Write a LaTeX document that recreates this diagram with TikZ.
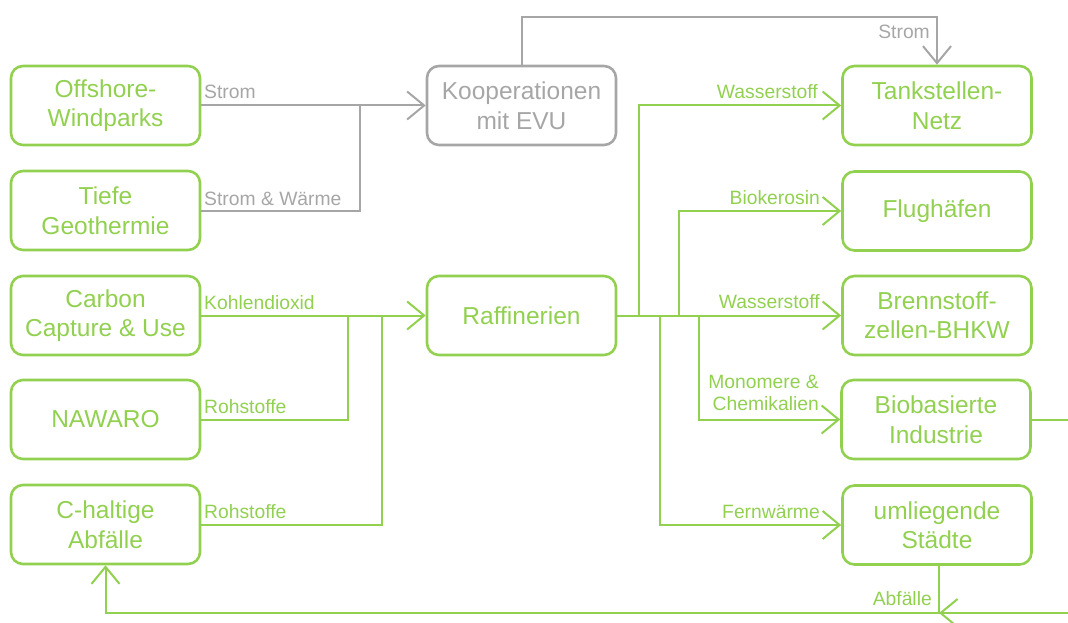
\documentclass[tikz,border=0pt]{standalone}
\usepackage{fontspec}
\setmainfont{Liberation Sans}
\usetikzlibrary{arrows.meta}
\definecolor{grn}{RGB}{146,208,80}
\definecolor{gry}{RGB}{166,166,166}
\begin{document}
\begin{tikzpicture}[x=1pt,y=-1pt,
  box/.style={draw=grn, text=grn, line width=2.6pt, rounded corners=12pt,
    minimum width=189pt, minimum height=79pt, align=center, inner sep=0pt,
    font=\fontsize{24.5}{29.5}\selectfont},
  gbox/.style={box, draw=gry, text=gry},
  flow/.style={draw=grn, line width=2pt},
  gflow/.style={draw=gry, line width=2pt},
  arr/.style={-{Straight Barb[length=17pt,width=28pt]}},
  lbl/.style={font=\fontsize{19.3}{22}\selectfont, text=grn, inner sep=0pt},
  glbl/.style={lbl, text=gry}]
\useasboundingbox (0,0) rectangle (1068,623);

% left column
\node[box] (off) at (105.5,105.5) {Offshore-\\Windparks};
\node[box] (geo) at (105.5,210.5) {Tiefe\\Geothermie};
\node[box] (ccu) at (105.5,315.5) {Carbon\\Capture \& Use};
\node[box] (naw) at (105.5,419.5) {NAWARO};
\node[box] (chalt) at (105.5,524.5) {C-haltige\\Abfälle};
% middle
\node[gbox] (evu) at (521.5,105.5) {Kooperationen\\mit EVU};
\node[box] (raff) at (521.5,315.5) {Raffinerien};
% right column
\node[box] (tank) at (937,105.5) {Tankstellen-\\Netz};
\node[box] (flug) at (937,211) {Flughäfen};
\node[box] (bhkw) at (937,315.5) {Brennstoff-\\zellen-BHKW};
\node[box] (bio) at (936,419.5) {Biobasierte\\Industrie};
\node[box] (stadt) at (937,525) {umliegende\\Städte};

% gray connectors
\coordinate (g1) at (360,105.5);
\coordinate (t1) at (521.5,17);
\draw[gflow,arr] (off.east) -- (evu.west);
\draw[gflow] (geo.east) -| (g1);
\draw[gflow,arr] (evu.north) -- (t1) -| (tank.north);

% green inputs
\coordinate (j1) at (348,315.5);
\coordinate (j2) at (382,315.5);
\draw[flow,arr] (ccu.east) -- (raff.west);
\draw[flow] (naw.east) -| (j1);
\draw[flow] (chalt.east) -| (j2);

% outputs
\coordinate (r1) at (639,315.5);
\coordinate (r2) at (660,315.5);
\coordinate (r3) at (679,315.5);
\coordinate (r4) at (699,315.5);
\draw[flow,arr] (raff.east) -- (bhkw.west);
\draw[flow,arr] (r1) |- (tank.west);
\draw[flow,arr] (r3) |- (flug.west);
\draw[flow,arr] (r4) |- (bio.west);
\draw[flow,arr] (r2) |- (stadt.west);

% return loop
\coordinate (re) at (1068,419.5);
\coordinate (rb) at (1068,613);
\coordinate (jb) at (939,613);
\coordinate (lb) at (105.5,613);
\draw[flow] (bio.east) -- (re);
\draw[flow,arr] (rb) -- (jb);
\draw[flow,arr] (stadt.south -| jb) -- (jb) -- (lb) -- (chalt.south);

% labels
\node[glbl, anchor=base west] (l1) at (204,99) {Strom};
\node[glbl, anchor=base west] (l2) at (204,205) {Strom \& Wärme};
\node[glbl, anchor=base east] (l3) at (930,39) {Strom};
\node[lbl, anchor=base west] (l4) at (204,309) {Kohlendioxid};
\node[lbl, anchor=base west] (l5) at (204,413) {Rohstoffe};
\node[lbl, anchor=base west] (l6) at (204,518) {Rohstoffe};
\node[lbl, anchor=base east] (l7) at (818,99) {Wasserstoff};
\node[lbl, anchor=base east] (l8) at (820,204) {Biokerosin};
\node[lbl, anchor=base east] (l9) at (820,308) {Wasserstoff};
\node[lbl, anchor=base east] (l10) at (819,388) {Monomere \&};
\node[lbl, anchor=base east] (l11) at (819,410) {Chemikalien};
\node[lbl, anchor=base east] (l12) at (820,518) {Fernwärme};
\node[lbl, anchor=base east] (l13) at (932,605) {Abfälle};
\end{tikzpicture}
\end{document}
